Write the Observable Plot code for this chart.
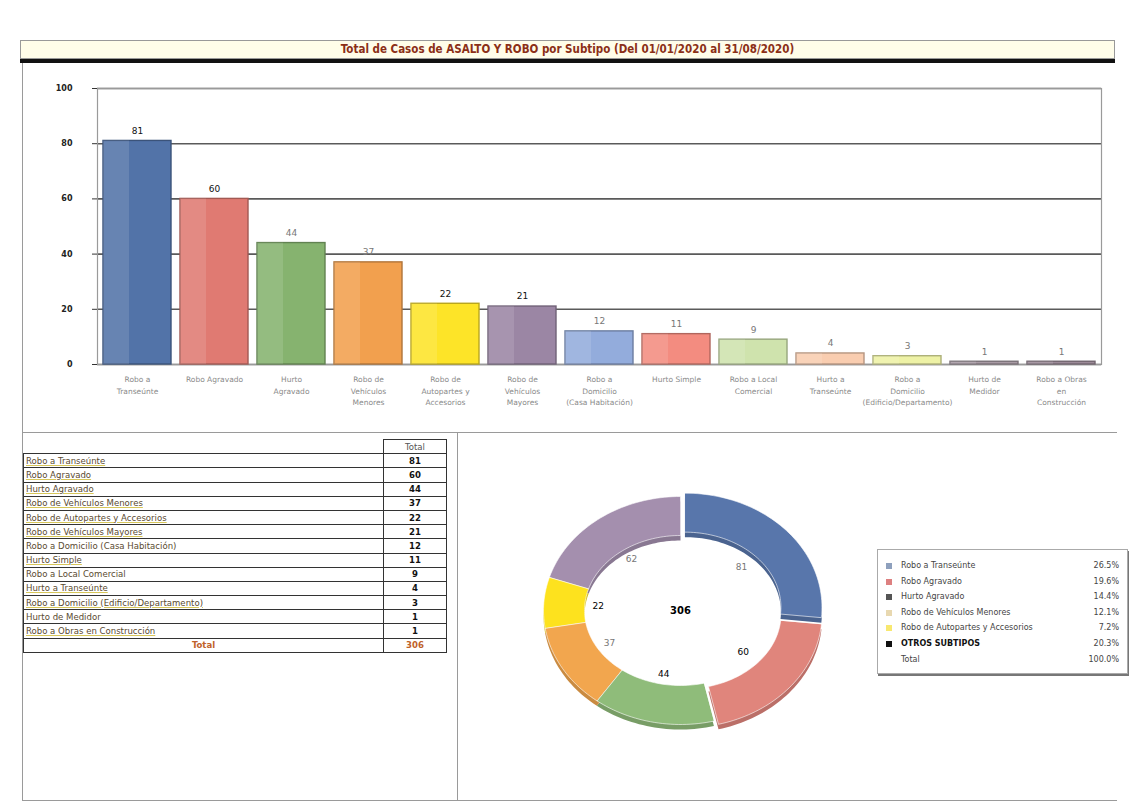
<!DOCTYPE html>
<html>
<head>
<meta charset="utf-8">
<script src="https://cdn.jsdelivr.net/npm/d3@7"></script>
<script src="https://cdn.jsdelivr.net/npm/@observablehq/plot@0.6"></script>
<style>
  html, body { margin: 0; padding: 0; background: #fff; }
  #page { position: relative; width: 1135px; height: 809px; overflow: hidden; font-family: "DejaVu Sans", Verdana, sans-serif; }
  .abs { position: absolute; }
  #title { left: 20px; top: 40px; width: 1093px; height: 17px; border: 1px solid #999; background: #fffde9;
           color: #8b2f17; font: bold 11.5px "DejaVu Sans Condensed", "DejaVu Sans", sans-serif; text-align: center; line-height: 17px; }
  #titlebar { left: 20px; top: 59px; width: 1095px; height: 4px; background: #111; }
  .hl { background: #9a9a9a; height: 1px; }
  .vl { background: #9a9a9a; width: 1px; }
  table#tbl { border-collapse: collapse; font: 9.5px "DejaVu Sans Condensed", "DejaVu Sans", sans-serif; table-layout: fixed; }
  #tbl td { height: 13.2px; padding: 0 2px; border: 1px solid #333; line-height: 12px; white-space: nowrap; }
  #tbl td.n { color: #5a4a30; }
  #tbl td.n.u { text-decoration: underline; text-decoration-color: #d6c65a; }
  #tbl td.v { text-align: center; font-weight: bold; color: #111; }
  #tbl tr.hd td.e { border: none; }
  #tbl tr.hd td.v { font-weight: normal; color: #555; }
  #tbl tr.tot td { color: #c0622a; font-weight: bold; text-align: center; }
  #legend { left: 877px; top: 549px; width: 249px; height: 123px; border: 1px solid #aaa; box-shadow: 1px 2px 0 #777; background: #fff;
            font: 8px "DejaVu Sans", sans-serif; color: #444; }
  .li { position: absolute; left: 8px; right: 8px; height: 12px; line-height: 12px; }
  .li .m { position: absolute; left: 0; top: 3px; width: 6px; height: 6px; }
  .li .t { position: absolute; left: 15px; }
  .li .p { position: absolute; right: 0; }
</style>
</head>
<body>
<div id="page">
  <div id="title" class="abs"></div>
  <div id="titlebar" class="abs"></div>
  <div class="abs vl" style="left:22px; top:63px; height:738px;"></div>
  <div class="abs hl" style="left:22px; top:432px; width:1095px;"></div>
  <div class="abs vl" style="left:457px; top:432px; height:369px;"></div>
  <div class="abs hl" style="left:22px; top:800px; width:1095px;"></div>
  <div id="bars" class="abs" style="left:22px; top:66px;"></div>
  <div id="tablewrap" class="abs" style="left:23px; top:439px;"></div>
  <div id="donut" class="abs" style="left:520px; top:480px;"></div>
  <div id="legend" class="abs"></div>
</div>
<script>
// ---------------- DATA ----------------
const titleText = "Total de Casos de ASALTO Y ROBO por Subtipo (Del 01/01/2020 al 31/08/2020)";

const categories = [
  "Robo a Transeúnte",
  "Robo Agravado",
  "Hurto Agravado",
  "Robo de Vehículos Menores",
  "Robo de Autopartes y Accesorios",
  "Robo de Vehículos Mayores",
  "Robo a Domicilio (Casa Habitación)",
  "Hurto Simple",
  "Robo a Local Comercial",
  "Hurto a Transeúnte",
  "Robo a Domicilio (Edificio/Departamento)",
  "Hurto de Medidor",
  "Robo a Obras en Construcción"
];
const values = [81, 60, 44, 37, 22, 21, 12, 11, 9, 4, 3, 1, 1];
const tickLabels = [
  "Robo a\nTranseúnte",
  "Robo Agravado",
  "Hurto\nAgravado",
  "Robo de\nVehículos\nMenores",
  "Robo de\nAutopartes y\nAccesorios",
  "Robo de\nVehículos\nMayores",
  "Robo a\nDomicilio\n(Casa Habitación)",
  "Hurto Simple",
  "Robo a Local\nComercial",
  "Hurto a\nTranseúnte",
  "Robo a\nDomicilio\n(Edificio/Departamento)",
  "Hurto de\nMedidor",
  "Robo a Obras\nen\nConstrucción"
];
const yTicks = [0, 20, 40, 60, 80, 100];
const totalLabel = "Total";
const totalValue = 306;

const donutNames = ["Robo a Transeúnte", "Robo Agravado", "Hurto Agravado", "Robo de Vehículos Menores", "Robo de Autopartes y Accesorios", "OTROS SUBTIPOS"];
const donutValues = [81, 60, 44, 37, 22, 62];
const legendPercents = ["26.5%", "19.6%", "14.4%", "12.1%", "7.2%", "20.3%"];
const legendTotalPercent = "100.0%";

// ---------------- STYLES ----------------
const barPalette = ["#5273a8", "#e07a72", "#86b36f", "#f2a04e", "#fde428", "#9b86a4",
                    "#93acdc", "#f38c80", "#cfe3ad", "#f9cdb0", "#eef2a6", "#a89aa4", "#9c8a98"];
const donutPalette = ["#5876ab", "#e0857c", "#8fbc7a", "#f2a64e", "#fde21e", "#a48fae"];
const legendMarkers = ["#8ea0bd", "#dd8080", "#555", "#e8d8b0", "#f8e870", "#111"];
const strongBarLabels = new Set([0, 1, 4, 5]);

// ---------------- TITLE ----------------
document.getElementById("title").textContent = titleText;

// ---------------- BAR CHART ----------------
const barData = categories.map((c, i) => ({cat: c, value: values[i], i}));
const barChart = Plot.plot({
  width: 1095, height: 364,
  marginLeft: 75, marginRight: 16, marginTop: 22, marginBottom: 66,
  style: {fontFamily: "'DejaVu Sans', sans-serif", fontSize: "8px", background: "transparent"},
  x: {domain: categories, paddingInner: 0.12, paddingOuter: 0.05, label: null},
  y: {domain: [0, 100], label: null},
  color: {type: "identity"},
  marks: [
    Plot.gridY(yTicks, {stroke: "#5a5a5a", strokeOpacity: 1, strokeWidth: 1.6}),
    Plot.frame({stroke: "#9a9a9a", strokeWidth: 1.2}),
    Plot.barY(barData, {x: "cat", y: "value", fill: d => barPalette[d.i],
      stroke: d => d3.color(barPalette[d.i]).darker(0.9).formatHex(), strokeWidth: 1.4}),
    Plot.barY(barData, {x: "cat", y: "value", fill: "#fff", fillOpacity: 0.12, insetRight: 42}),
    Plot.text(barData, {x: "cat", y: "value", text: d => String(d.value), dy: -10,
      fill: d => strongBarLabels.has(d.i) ? "#111" : "#777", fontWeight: d => strongBarLabels.has(d.i) ? "bold" : "normal", fontSize: 9}),
    Plot.axisX({tickSize: 0, tickPadding: 10, tickFormat: d => tickLabels[categories.indexOf(d)],
      lineHeight: 1.5, fill: "#8a8a8a", fontSize: 7.5, textAnchor: "middle"}),
    Plot.axisY(yTicks, {tickSize: 5, tickPadding: 20, stroke: "#333", fill: "#222", fontWeight: "bold", fontSize: 8})
  ]
});
document.getElementById("bars").appendChild(barChart);

// ---------------- TABLE ----------------
const underlineRows = new Set([0, 1, 2, 3, 4, 5, 7, 9, 10, 12]);
const tbl = document.createElement("table");
tbl.id = "tbl";
const colg = document.createElement("colgroup");
colg.innerHTML = '<col style="width:360px"><col style="width:63px">';
tbl.appendChild(colg);
const hd = tbl.insertRow();
hd.className = "hd";
const h0 = hd.insertCell(); h0.className = "e";
const h1 = hd.insertCell(); h1.className = "v"; h1.textContent = totalLabel;
categories.forEach((c, i) => {
  const r = tbl.insertRow();
  const a = r.insertCell(); a.className = "n" + (underlineRows.has(i) ? " u" : ""); a.textContent = c;
  const b = r.insertCell(); b.className = "v"; b.textContent = values[i];
});
const tr = tbl.insertRow(); tr.className = "tot";
tr.insertCell().textContent = totalLabel;
tr.insertCell().textContent = totalValue;
document.getElementById("tablewrap").appendChild(tbl);

// ---------------- DONUT ----------------
const rxO = 137, ryO = 114, rxI = 96, ryI = 75, depth = 5;
const explode = [6, 6, 0, 0, 0, 0];
const arcs = d3.pie().sort(null).value(d => d)(donutValues);
function slicePoints(a, k) {
  const pts = [];
  const n = Math.max(8, Math.ceil((a.endAngle - a.startAngle) / 0.03));
  const mid = (a.startAngle + a.endAngle) / 2;
  const ox = explode[k] * Math.sin(mid), oy = explode[k] * Math.cos(mid) * 0.83;
  for (let j = 0; j <= n; j++) {
    const t = a.startAngle + (a.endAngle - a.startAngle) * j / n;
    pts.push({x: ox + rxO * Math.sin(t), y: oy + ryO * Math.cos(t)});
  }
  for (let j = n; j >= 0; j--) {
    const t = a.startAngle + (a.endAngle - a.startAngle) * j / n;
    pts.push({x: ox + rxI * Math.sin(t), y: oy + ryI * Math.cos(t)});
  }
  return pts;
}
const donutMarks = [];
arcs.forEach((a, k) => {
  const pts = slicePoints(a, k).map(p => ({x: p.x, y: p.y - depth}));
  donutMarks.push(Plot.line(pts, {x: "x", y: "y", curve: "linear-closed",
    fill: d3.color(donutPalette[k]).darker(0.5).formatHex(), stroke: "none"}));
});
arcs.forEach((a, k) => {
  donutMarks.push(Plot.line(slicePoints(a, k), {x: "x", y: "y", curve: "linear-closed",
    fill: donutPalette[k], stroke: "#fff", strokeWidth: 0.6}));
});
const labelData = arcs.map((a, k) => {
  const mid = (a.startAngle + a.endAngle) / 2;
  return {x: rxI * 0.86 * Math.sin(mid), y: ryI * 0.86 * Math.cos(mid), v: donutValues[k], k};
});
const darkLabels = new Set([1, 2, 4]);
donutMarks.push(Plot.text(labelData, {x: "x", y: "y", text: d => String(d.v), fontSize: 9,
  fill: d => darkLabels.has(d.k) ? "#000" : "#777", fontWeight: d => darkLabels.has(d.k) ? "bold" : "normal"}));
donutMarks.push(Plot.text([totalValue], {x: () => 0, y: () => 0, text: d => String(d), fontSize: 10, fontWeight: "bold", fill: "#000"}));

const donut = Plot.plot({
  width: 320, height: 260, margin: 0,
  x: {domain: [-160, 160], axis: null},
  y: {domain: [-130, 130], axis: null},
  style: {fontFamily: "'DejaVu Sans', sans-serif", background: "transparent"},
  marks: donutMarks
});
document.getElementById("donut").appendChild(donut);

// ---------------- LEGEND ----------------
const leg = document.getElementById("legend");
const legRows = donutNames.map((n, i) => ({n, p: legendPercents[i], c: legendMarkers[i]}));
legRows.push({n: totalLabel, p: legendTotalPercent, c: null});
legRows.forEach((r, i) => {
  const d = document.createElement("div");
  d.className = "li";
  d.style.top = (10 + i * 15.6) + "px";
  d.innerHTML = (r.c ? `<span class="m" style="background:${r.c}"></span>` : "") +
    `<span class="t"${i === 5 ? ' style="color:#111;font-weight:bold"' : ""}>${r.n}</span><span class="p">${r.p}</span>`;
  leg.appendChild(d);
});
</script>
</body>
</html>
